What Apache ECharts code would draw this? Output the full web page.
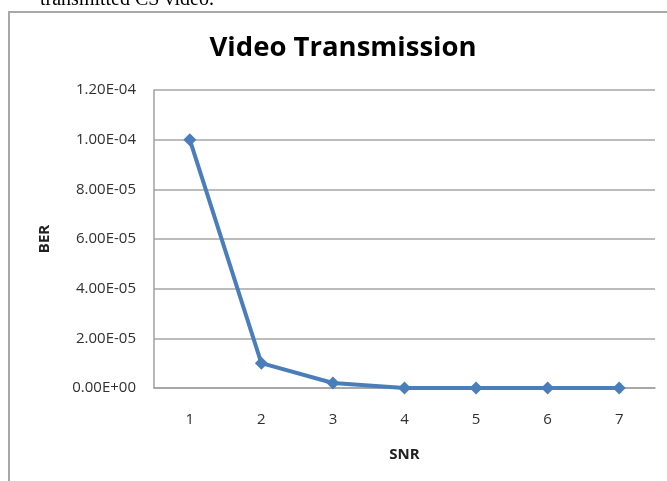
<!DOCTYPE html>
<html>
<head>
<meta charset="utf-8">
<script src="https://cdn.jsdelivr.net/npm/echarts@6/dist/echarts.min.js"></script>
<style>
  html, body { margin: 0; padding: 0; background: #ffffff; }
  #chart { width: 667px; height: 481px; }
</style>
</head>
<body>
<div id="chart"></div>
<script>
// SNR steps on the horizontal axis
const snrLevels = ['1', '2', '3', '4', '5', '6', '7'];
// Bit error rate measured at each SNR step
const berValues = [1.0e-4, 1.0e-5, 2.0e-6, 0, 0, 0, 0];

// Format a number as Excel-style scientific text, e.g. 1.00E-04
function sci(v) {
  const s = Number(v).toExponential(2);
  const parts = s.split('e');
  const sign = parts[1][0] === '-' ? '-' : '+';
  let exp = parts[1].replace(/^[+-]/, '');
  if (exp.length < 2) exp = '0' + exp;
  return parts[0] + 'E' + sign + exp;
}

const chart = echarts.init(document.getElementById('chart'), null, { renderer: 'canvas' });

const labelFont = "'Open Sans', 'DejaVu Sans', sans-serif";

chart.setOption({
  animation: false,
  backgroundColor: '#ffffff',
  graphic: [
    {
      type: 'text',
      left: 40,
      top: -10,
      style: {
        text: 'transmitted CS video.',
        font: "20px 'Liberation Serif', 'DejaVu Serif', serif",
        fill: '#000000'
      }
    },
    {
      type: 'rect',
      shape: { x: 9, y: 12, width: 700, height: 520 },
      style: { fill: 'none', stroke: '#a8a8a8', lineWidth: 2 },
      silent: true
    }
  ],
  title: {
    text: 'Video Transmission',
    left: 338,
    textAlign: 'center',
    top: 29,
    textStyle: {
      fontFamily: labelFont,
      fontWeight: 'bold',
      fontSize: 27.5,
      color: '#000000'
    }
  },
  grid: {
    left: 154,
    right: 12,
    top: 90,
    bottom: 93,
    containLabel: false
  },
  xAxis: {
    type: 'category',
    data: snrLevels,
    boundaryGap: true,
    name: 'SNR',
    nameLocation: 'middle',
    nameGap: 59,
    nameTextStyle: {
      fontFamily: labelFont,
      fontWeight: 'bold',
      fontSize: 15,
      color: '#202020'
    },
    axisLine: { show: true, lineStyle: { color: '#a0a0a0', width: 1.5 } },
    axisTick: { show: false },
    axisLabel: {
      margin: 24,
      fontFamily: labelFont,
      fontSize: 15,
      color: '#303030'
    },
    splitLine: { show: false }
  },
  yAxis: {
    type: 'value',
    min: 0,
    max: 1.2e-4,
    interval: 2e-5,
    name: 'BER',
    nameLocation: 'middle',
    nameGap: 102,
    nameRotate: 90,
    nameTextStyle: {
      fontFamily: labelFont,
      fontWeight: 'bold',
      fontSize: 15,
      color: '#202020'
    },
    axisLine: { show: true, lineStyle: { color: '#a0a0a0', width: 1.5 } },
    axisTick: { show: false },
    axisLabel: {
      margin: 18,
      fontFamily: labelFont,
      fontSize: 15,
      color: '#303030',
      formatter: sci
    },
    splitLine: { show: true, lineStyle: { color: '#a6a6a6', width: 1.5 } }
  },
  series: [
    {
      type: 'line',
      data: berValues,
      symbol: 'diamond',
      symbolSize: 13,
      showAllSymbol: true,
      lineStyle: { color: '#4a7ebb', width: 4 },
      itemStyle: { color: '#4a7ebb' }
    }
  ]
});
</script>
</body>
</html>
